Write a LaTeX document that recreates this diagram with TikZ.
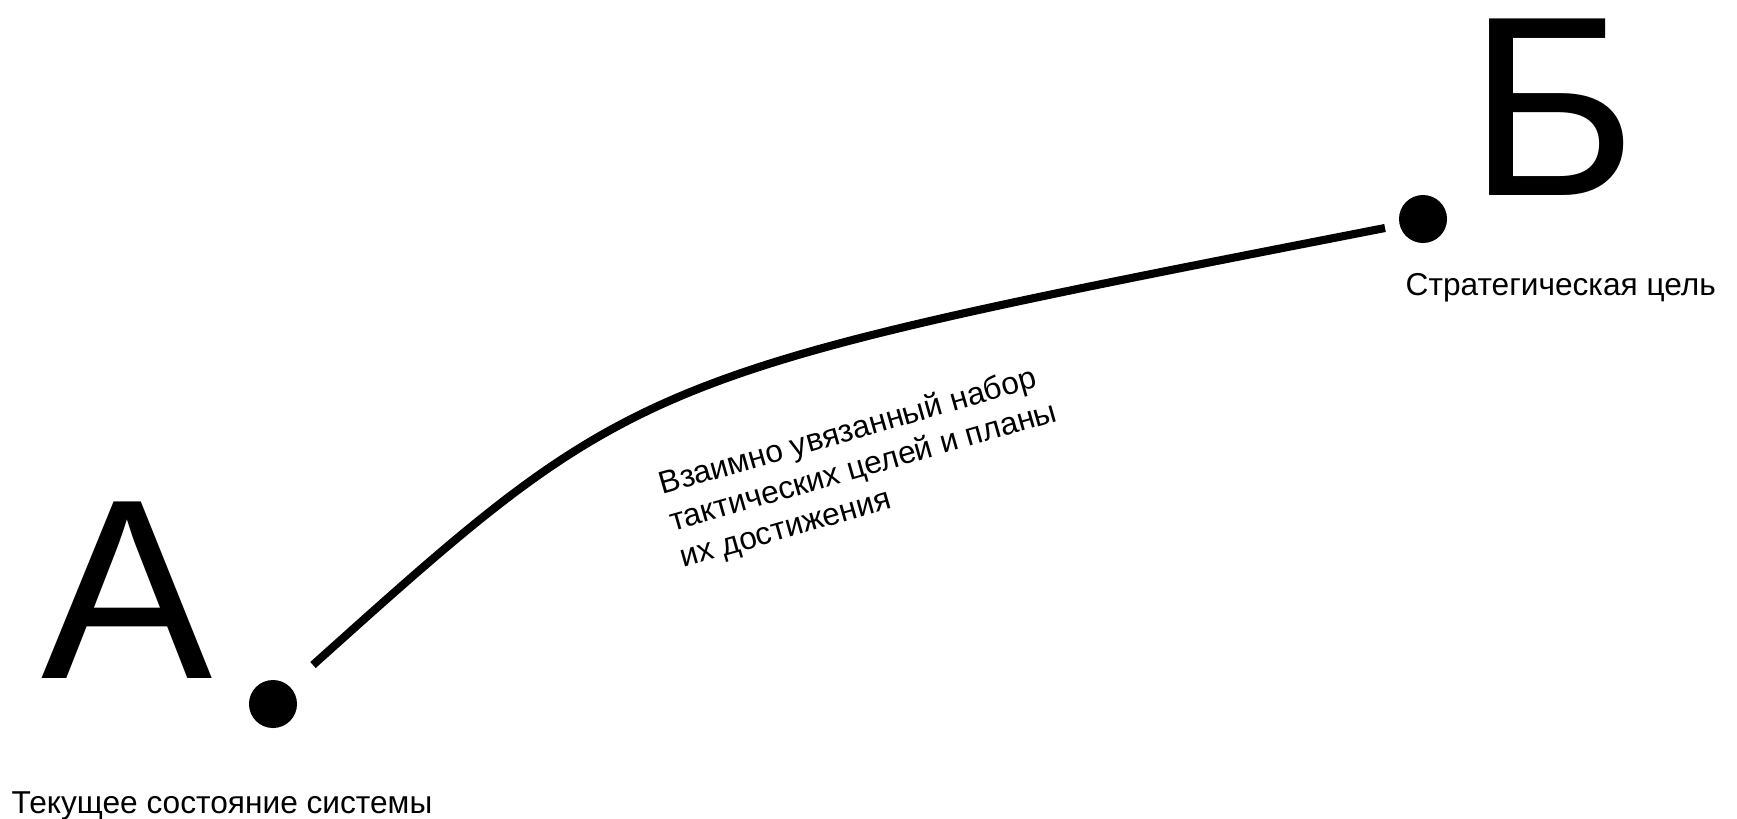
\documentclass[tikz,border=0pt]{standalone}
\usepackage{fontspec}
\setmainfont{Liberation Sans}
\begin{document}
\begin{tikzpicture}[x=0.01cm,y=-0.01cm,
  bigletter/.style={inner sep=0pt,font=\fontsize{73}{80}\selectfont,anchor=base},
  dotnode/.style={circle,fill=black,inner sep=0pt,minimum size=0.48cm},
  caption/.style={inner sep=0pt,font=\fontsize{9}{11}\selectfont,anchor=base west},
  pathline/.style={line width=2.3pt,black}]
\useasboundingbox (0,0) rectangle (1737,818);
\node[bigletter] (la) at (127,678) {А};
\node[bigletter] (lb) at (1553,195) {Б};
\node[dotnode] (da) at (273,704) {};
\node[dotnode] (db) at (1423,219) {};
\node[caption] (ta) at (11,813) {Текущее состояние системы};
\node[caption] (tb) at (1405,295) {Стратегическая цель};
\coordinate (ca) at (313,665);
\coordinate (cb) at (1385,228);
\draw[pathline] (ca) .. controls (637,374) .. (cb);
\node[inner sep=0pt,rotate=16,anchor=base west,align=left,font=\fontsize{9}{10.8}\selectfont] (mid) at (683,568) {Взаимно увязанный набор\\тактических целей и планы\\их достижения};
\end{tikzpicture}
\end{document}
